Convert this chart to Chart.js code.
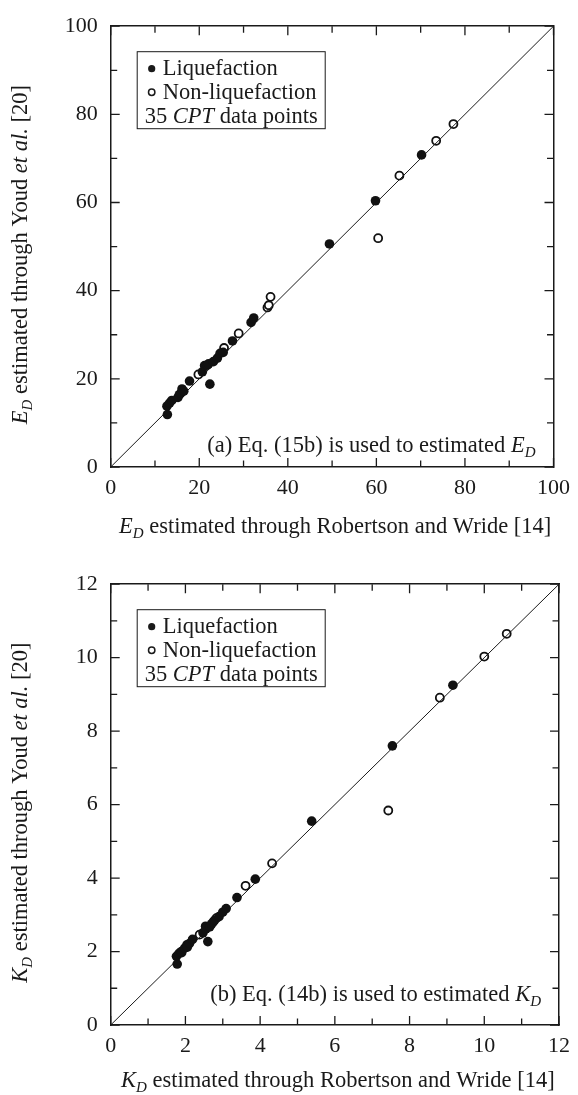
<!DOCTYPE html>
<html>
<head>
<meta charset="utf-8">
<script src="https://cdn.jsdelivr.net/npm/chart.js@4.4.1/dist/chart.umd.min.js"></script>
<style>
    html, body { margin: 0; padding: 0; background: #fff; overflow: hidden; }
    #wrapA { position: absolute; left: 0; top: 0; width: 578px; height: 558px; }
    #wrapB { position: absolute; left: 0; top: 558px; width: 578px; height: 537px; }
</style>
</head>
<body>
<div id="wrapA"><canvas id="graficoED" width="578" height="558"></canvas></div>
<div id="wrapB"><canvas id="graficoKD" width="578" height="537"></canvas></div>
<script>
// (a) E_D : Robertson and Wride [14] (x) vs Youd et al. [20] (y)
const edLiqX = [12.8, 12.7, 13.3, 13.8, 15.2, 15.5, 15.8, 16.1, 16.5, 17.8, 20.7, 21.2, 21.8, 22.4, 22.1, 23.2, 24.1, 24.7, 25.4, 27.5, 31.7, 32.3, 49.4, 59.8, 70.2];
const edLiqY = [11.9, 13.8, 14.5, 15.1, 15.8, 16.4, 16.7, 17.7, 17.2, 19.5, 21.6, 23.0, 23.1, 18.8, 23.4, 23.9, 24.7, 25.8, 26.0, 28.6, 32.8, 33.8, 50.6, 60.4, 70.8];
const edNonX = [19.8, 25.6, 28.9, 35.4, 35.7, 36.1, 60.4, 65.2, 73.5, 77.4];
const edNonY = [21.0, 27.0, 30.3, 36.2, 36.7, 38.6, 51.9, 66.1, 74.0, 77.8];

// (b) K_D : Robertson and Wride [14] (x) vs Youd et al. [20] (y)
const kdLiqX = [1.78, 1.76, 1.83, 1.89, 1.90, 1.98, 2.04, 2.05, 2.11, 2.19, 2.47, 2.60, 2.54, 2.55, 2.65, 2.70, 2.74, 2.78, 2.90, 3.00, 3.09, 3.38, 3.87, 5.38, 7.54, 9.16];
const kdLiqY = [1.66, 1.87, 1.95, 2.00, 1.97, 2.09, 2.18, 2.12, 2.22, 2.33, 2.51, 2.27, 2.69, 2.62, 2.67, 2.75, 2.80, 2.85, 2.95, 3.07, 3.17, 3.47, 3.97, 5.55, 7.60, 9.25];
const kdNonX = [2.38, 2.83, 3.61, 4.32, 7.43, 8.81, 10.0, 10.6];
const kdNonY = [2.46, 2.91, 3.79, 4.40, 5.84, 8.91, 10.03, 10.65];

// linha 1:1 e eixos
const edRange = [0, 100];
const kdRange = [0, 12];

const serif = '"Liberation Serif", "DejaVu Serif", serif';
const ink = '#1a1a1a';

function pontos(xs, ys) {
    return xs.map((x, i) => ({ x: x, y: ys[i] }));
}

// texto com partes em italico / subscrito
function textoRico(ctx, partes, x, y, align) {
    var total = 0;
    partes.forEach(p => {
        ctx.font = fonte(p[1]);
        total += ctx.measureText(p[0]).width;
    });
    if (align === 'right') x -= total;
    if (align === 'center') x -= total / 2;
    ctx.textAlign = 'left';
    ctx.textBaseline = 'alphabetic';
    partes.forEach(p => {
        ctx.font = fonte(p[1]);
        ctx.fillText(p[0], x, y + (p[1] === 'sub' ? 5 : 0));
        x += ctx.measureText(p[0]).width;
    });
}

function fonte(estilo) {
    if (estilo === 'i') return 'italic 22.5px ' + serif;
    if (estilo === 'sub') return 'italic 15px ' + serif;
    return '22.5px ' + serif;
}

function grafico(id, cfg) {
    var extras = {
        id: 'extras' + id,
        afterDraw(chart) {
            const ctx = chart.ctx;
            const a = chart.chartArea;
            const sx = chart.scales.x, sy = chart.scales.y;
            ctx.save();
            ctx.strokeStyle = ink;
            ctx.fillStyle = ink;
            ctx.lineWidth = 1.3;

            // ticks para dentro nos quatro lados
            for (var v = cfg.range[0]; v <= cfg.range[1] + 1e-9; v += cfg.minor) {
                var major = Math.abs(v / cfg.step - Math.round(v / cfg.step)) < 1e-6;
                var len = major ? 9 : 6.5;
                var px = sx.getPixelForValue(v);
                var py = sy.getPixelForValue(v);
                ctx.beginPath();
                ctx.moveTo(px, a.bottom); ctx.lineTo(px, a.bottom - len);
                ctx.moveTo(px, a.top); ctx.lineTo(px, a.top + len);
                ctx.moveTo(a.left, py); ctx.lineTo(a.left + len, py);
                ctx.moveTo(a.right, py); ctx.lineTo(a.right - len, py);
                ctx.stroke();
            }

            // titulos dos eixos
            textoRico(ctx, cfg.xTitle, (a.left + a.right) / 2 + 3, a.bottom + cfg.xTitleOff, 'center');
            ctx.save();
            ctx.translate(27, (a.top + a.bottom) / 2 + 8);
            ctx.rotate(-Math.PI / 2);
            textoRico(ctx, cfg.yTitle, 0, 0, 'center');
            ctx.restore();

            // legenda
            ctx.lineWidth = 1;
            ctx.strokeRect(a.left + 26.5, a.top + 25.5, 188, 77);
            ctx.beginPath();
            ctx.arc(a.left + 41, a.top + 42.5, 3.6, 0, Math.PI * 2);
            ctx.fill();
            ctx.lineWidth = 1.5;
            ctx.beginPath();
            ctx.arc(a.left + 41, a.top + 66, 3.2, 0, Math.PI * 2);
            ctx.stroke();
            textoRico(ctx, [['Liquefaction', '']], a.left + 52, a.top + 49, 'left');
            textoRico(ctx, [['Non-liquefaction', '']], a.left + 52, a.top + 72.6, 'left');
            textoRico(ctx, [['35 ', ''], ['CPT', 'i'], [' data points', '']], a.left + 34, a.top + 96.6, 'left');

            // anotacao
            textoRico(ctx, cfg.nota, a.right - 18, a.bottom - cfg.notaOff, 'right');
            ctx.restore();
        }
    };

    var eixoBase = {
        type: 'linear',
        min: cfg.range[0],
        max: cfg.range[1],
        grid: { display: false, drawTicks: false },
        border: { display: true, color: ink, width: 1.5 },
    };

    var data = {
        datasets: [
            {
                label: 'Liquefaction',
                data: pontos(cfg.liqX, cfg.liqY),
                backgroundColor: '#111',
                borderColor: '#111',
                borderWidth: 0,
                pointRadius: 4.8,
            },
            {
                label: '1:1',
                data: [{ x: cfg.range[0], y: cfg.range[0] }, { x: cfg.range[1], y: cfg.range[1] }],
                showLine: true,
                borderColor: ink,
                borderWidth: 1,
                pointRadius: 0,
            },
            {
                label: 'Non-liquefaction',
                data: pontos(cfg.nonX, cfg.nonY),
                backgroundColor: '#fff',
                borderColor: '#111',
                borderWidth: 1.8,
                pointRadius: 4,
            }
        ]
    };

    var config = {
        type: 'scatter',
        data: data,
        options: {
            responsive: false,
            animation: false,
            events: [],
            layout: { padding: 0 },
            plugins: { legend: { display: false }, tooltip: { enabled: false } },
            scales: {
                x: Object.assign({}, eixoBase, {
                    position: 'bottom',
                    ticks: { stepSize: cfg.step, color: ink, padding: 8, maxRotation: 0, font: { family: serif, size: 22 } },
                    afterFit: s => { s.height = cfg.bottomH; }
                }),
                y: Object.assign({}, eixoBase, {
                    position: 'left',
                    ticks: { stepSize: cfg.step, color: ink, padding: 13, font: { family: serif, size: 22 } },
                    afterFit: s => { s.width = 110.7; }
                }),
                x2: Object.assign({}, eixoBase, {
                    position: 'top',
                    ticks: { display: false },
                    afterFit: s => { s.height = cfg.topH; }
                }),
                y2: Object.assign({}, eixoBase, {
                    position: 'right',
                    ticks: { display: false },
                    afterFit: s => { s.width = 18; }
                })
            }
        },
        plugins: [extras]
    };

    return new Chart(document.getElementById(id), config);
}

grafico('graficoED', {
    liqX: edLiqX, liqY: edLiqY, nonX: edNonX, nonY: edNonY,
    range: edRange, step: 20, minor: 10,
    topH: 16.7, bottomH: 91,
    xTitle: [['E', 'i'], ['D', 'sub'], [' estimated through Robertson and Wride [14]', '']],
    yTitle: [['E', 'i'], ['D', 'sub'], [' estimated through Youd ', ''], ['et al.', 'i'], [' [20]', '']],
    xTitleOff: 66,
    nota: [['(a) Eq. (15b) is used to estimated ', ''], ['E', 'i'], ['D', 'sub']],
    notaOff: 15.5
});

grafico('graficoKD', {
    liqX: kdLiqX, liqY: kdLiqY, nonX: kdNonX, nonY: kdNonY,
    range: kdRange, step: 2, minor: 1,
    topH: 17, bottomH: 70,
    xTitle: [['K', 'i'], ['D', 'sub'], [' estimated through Robertson and Wride [14]', '']],
    yTitle: [['K', 'i'], ['D', 'sub'], [' estimated through Youd ', ''], ['et al.', 'i'], [' [20]', '']],
    xTitleOff: 62,
    nota: [['(b) Eq. (14b) is used to estimated ', ''], ['K', 'i'], ['D', 'sub']],
    notaOff: 24
});
</script>
</body>
</html>
